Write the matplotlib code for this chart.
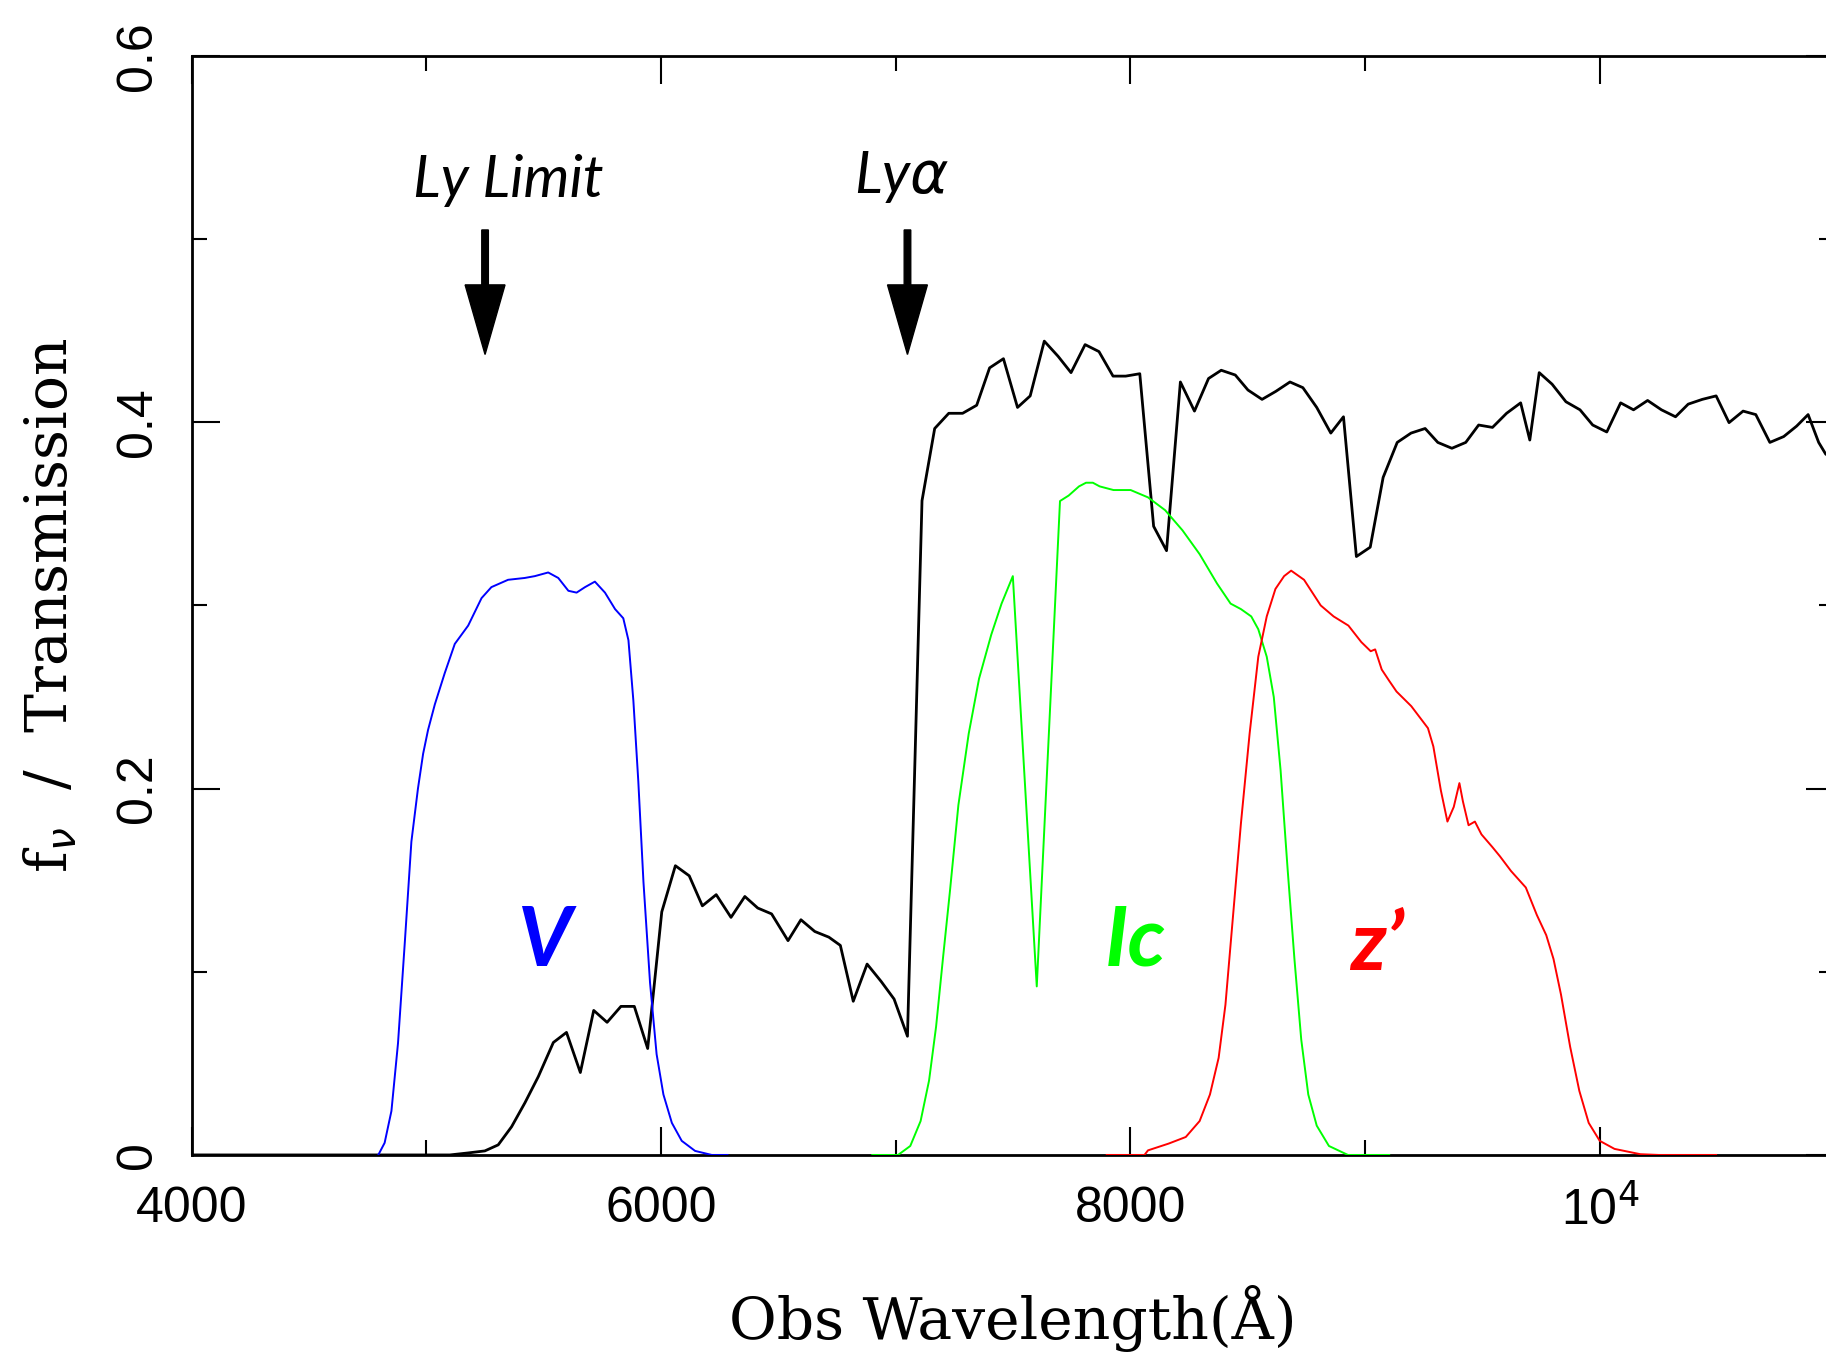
import numpy as np
import matplotlib
matplotlib.use('Agg')
from matplotlib import pyplot as plt
from matplotlib.ticker import MultipleLocator

# observed spectrum (wavelength in A, f_nu)
spec_wave = [4000, 5100, 5178, 5249, 5306, 5363, 5420, 5477, 5541, 5597, 5656, 5713, 5770,
             5829, 5886, 5943, 6003, 6061, 6120, 6176, 6235, 6298, 6357, 6412, 6471, 6541,
             6596, 6655, 6715, 6764, 6819, 6878, 6938, 6993, 7050, 7112, 7166, 7226, 7285,
             7345, 7400, 7459, 7519, 7573, 7633, 7692, 7747, 7807, 7866, 7926, 7980, 8040,
             8099, 8154, 8213, 8273, 8333, 8387, 8447, 8501, 8561, 8620, 8680, 8735, 8794,
             8854, 8908, 8963, 9022, 9077, 9137, 9196, 9256, 9310, 9370, 9429, 9484, 9543,
             9603, 9663, 9702, 9742, 9797, 9856, 9916, 9970, 10030, 10089, 10144, 10204,
             10263, 10323, 10377, 10437, 10496, 10551, 10611, 10665, 10725, 10784, 10839,
             10888, 10933, 10963, 11000]
spec_flux = [0.0, 0.0, 0.0011, 0.0022, 0.0055, 0.0154, 0.0285, 0.0428, 0.0614, 0.0669,
             0.0450, 0.0789, 0.0724, 0.0811, 0.0811, 0.0581, 0.1327, 0.1579, 0.1524, 0.1360,
             0.1421, 0.1297, 0.1411, 0.1348, 0.1316, 0.1170, 0.1284, 0.1220, 0.1189, 0.1144,
             0.0839, 0.1042, 0.0947, 0.0851, 0.0648, 0.3572, 0.3966, 0.4049, 0.4049, 0.4093,
             0.4297, 0.4347, 0.4081, 0.4144, 0.4443, 0.4360, 0.4271, 0.4424, 0.4386, 0.4252,
             0.4252, 0.4265, 0.3432, 0.3299, 0.4220, 0.4061, 0.4239, 0.4284, 0.4258, 0.4176,
             0.4125, 0.4169, 0.4220, 0.4189, 0.4081, 0.3941, 0.4030, 0.3267, 0.3318, 0.3699,
             0.3890, 0.3941, 0.3966, 0.3890, 0.3858, 0.3890, 0.3985, 0.3972, 0.4049, 0.4106,
             0.3903, 0.4271, 0.4208, 0.4112, 0.4068, 0.3985, 0.3947, 0.4106, 0.4068, 0.4119,
             0.4068, 0.4030, 0.4099, 0.4125, 0.4144, 0.3998, 0.4061, 0.4042, 0.3890, 0.3922,
             0.3979, 0.4042, 0.3890, 0.3826, 0.3800]

# filter transmission curves
v_wave = [4795, 4822, 4851, 4879, 4908, 4936, 4964, 4986, 5007, 5036, 5078, 5121, 5178,
          5235, 5277, 5348, 5419, 5462, 5519, 5562, 5605, 5640, 5676, 5718, 5761, 5804,
          5839, 5861, 5882, 5903, 5925, 5953, 5981, 6010, 6046, 6088, 6145, 6216, 6283]
v_trans = [0.0, 0.0066, 0.024, 0.061, 0.116, 0.171, 0.200, 0.219, 0.232, 0.246, 0.263,
           0.279, 0.289, 0.304, 0.310, 0.314, 0.315, 0.316, 0.318, 0.315, 0.308, 0.307,
           0.310, 0.313, 0.307, 0.298, 0.293, 0.281, 0.248, 0.204, 0.149, 0.094, 0.055,
           0.033, 0.0175, 0.0077, 0.0022, 0.0, 0.0]

ic_wave = [6900, 7010, 7062, 7106, 7142, 7172, 7201, 7231, 7267, 7311, 7355, 7407, 7451,
           7499, 7601, 7700, 7737, 7781, 7811, 7840, 7869, 7928, 8001, 8075, 8148, 8222,
           8295, 8369, 8427, 8471, 8515, 8545, 8581, 8611, 8640, 8670, 8699, 8728, 8758,
           8794, 8846, 8927, 9103]
ic_trans = [0.0, 0.0, 0.0049, 0.0185, 0.0406, 0.0701, 0.107, 0.144, 0.191, 0.230, 0.260,
            0.284, 0.301, 0.316, 0.092, 0.357, 0.360, 0.365, 0.367, 0.367, 0.365, 0.363,
            0.363, 0.359, 0.352, 0.341, 0.328, 0.312, 0.301, 0.298, 0.294, 0.287, 0.272,
            0.250, 0.210, 0.156, 0.107, 0.063, 0.033, 0.016, 0.0049, 0.0, 0.0]

z_wave = [7899, 8060, 8075, 8163, 8236, 8295, 8339, 8376, 8405, 8435, 8471, 8508, 8545,
          8581, 8618, 8655, 8685, 8740, 8811, 8866, 8929, 8984, 9024, 9043, 9071, 9102,
          9134, 9197, 9268, 9291, 9323, 9351, 9378, 9402, 9417, 9441, 9468, 9496, 9543,
          9575, 9622, 9685, 9732, 9772, 9803, 9835, 9874, 9913, 9953, 10000, 10063, 10173,
          10252, 10496]
z_trans = [0.0, 0.0, 0.0025, 0.0062, 0.0098, 0.0185, 0.033, 0.053, 0.082, 0.127, 0.181,
           0.230, 0.272, 0.294, 0.309, 0.316, 0.319, 0.314, 0.300, 0.294, 0.289, 0.280,
           0.275, 0.276, 0.265, 0.259, 0.253, 0.245, 0.233, 0.223, 0.199, 0.182, 0.190,
           0.203, 0.193, 0.180, 0.182, 0.175, 0.168, 0.163, 0.155, 0.146, 0.131, 0.120,
           0.107, 0.0875, 0.059, 0.035, 0.0175, 0.0077, 0.0033, 0.0004, 0.0, 0.0]

ly_limit = 5250
ly_alpha = 7050

tick_font = ['Liberation Sans', 'DejaVu Sans']
label_font = ['DejaVu Serif']
note_font = ['Lato', 'DejaVu Sans']


def main():
    fig = plt.figure(figsize=(18.26, 13.61), dpi=100)
    ax = fig.add_axes([0.105, 0.1514, 0.8996, 0.8075])

    ax.plot(spec_wave, spec_flux, color='black', lw=2.0, zorder=3)
    ax.plot(v_wave, v_trans, color='#0000ff', lw=1.4, zorder=3)
    ax.plot(ic_wave, ic_trans, color='#00ff00', lw=1.4, zorder=3)
    ax.plot(z_wave, z_trans, color='#ff0000', lw=1.4, zorder=3)

    ax.set_xlim(4000, 11000)
    ax.set_ylim(0, 0.6)

    ax.xaxis.set_major_locator(MultipleLocator(2000))
    ax.xaxis.set_minor_locator(MultipleLocator(1000))
    ax.yaxis.set_major_locator(MultipleLocator(0.2))
    ax.yaxis.set_minor_locator(MultipleLocator(0.1))
    ax.tick_params(which='both', direction='in', top=True, right=True, width=1.5)
    ax.tick_params(which='major', length=20, pad=22)
    ax.tick_params(which='minor', length=11)
    for s in ax.spines.values():
        s.set_linewidth(2.0)

    ax.set_xticks([4000, 6000, 8000, 10000])
    ax.set_xticklabels(['4000', '6000', '8000', r'10$^{4}$'], family=tick_font, fontsize=36)
    ax.set_yticks([0, 0.2, 0.4, 0.6])
    ax.set_yticklabels(['0', '0.2', '0.4', '0.6'], family=tick_font, fontsize=36,
                       rotation=90, va='center')

    ax.set_xlabel(u'Obs Wavelength(\u00c5)', family=label_font, fontsize=42, labelpad=36)
    ax.set_ylabel(r'f$_{\nu}$  /  Transmission', family=label_font, fontsize=42, labelpad=26)

    # Lyman break markers
    for xw in (ly_limit, ly_alpha):
        ax.arrow(xw, 0.505, 0, -0.068, width=28, head_width=170, head_length=0.038,
                 length_includes_head=True, fc='black', ec='black')
    ax.text(5350, 0.532, 'Ly Limit', family=note_font, style='italic', fontsize=42,
            ha='center', va='center')
    ax.text(7027, 0.534, r'Ly$\alpha$', family=note_font, style='italic', fontsize=42,
            ha='center', va='center')

    # filter names
    ax.text(5504, 0.116, 'V', color='#0000ff', family=note_font, style='italic',
            weight='bold', fontsize=60, ha='center', va='center')
    ax.text(8020, 0.116, 'Ic', color='#00ff00', family=note_font, style='italic',
            weight='bold', fontsize=60, ha='center', va='center')
    ax.text(9052, 0.114, u'z\u2019', color='#ff0000', family=note_font, style='italic',
            weight='bold', fontsize=60, ha='center', va='center')

    fig.savefig('out.png', dpi=100)


if __name__ == '__main__':
    main()
